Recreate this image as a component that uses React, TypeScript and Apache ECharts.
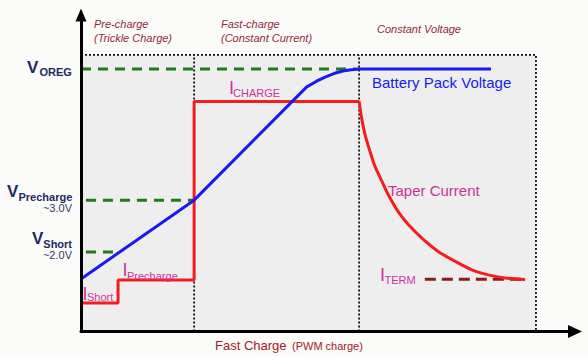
import React, { useEffect, useRef } from "react";
import * as echarts from "echarts";

// Phase boundaries (x, time units) and box top (y units)
const phaseBounds = [22.9, 56.3, 92.1];
const boxTop = 87.4;

// Voltage thresholds
const vOreg = 82.9;
const vPrecharge = 41.5;
const vShort = 25.1;

// Battery pack voltage curve [x, y]
const batteryX = [0, 22.9, 45.7, 47.6, 49.4, 51.2, 53.0, 54.7, 56.3, 83.0];
const batteryY = [16.6, 41.5, 77.3, 79.0, 80.4, 81.5, 82.3, 82.7, 82.9, 82.9];

// Charge current (step part)
const currentX = [0, 7.5, 7.5, 22.9, 22.9, 56.3];
const currentY = [9.0, 9.0, 16.3, 16.3, 72.7, 72.7];

// Taper current (constant-voltage phase)
const taperX = [56.3, 56.8, 57.5, 58.5, 59.5, 60.9, 62.2, 64.2, 66.3, 69.0, 72.3, 75.7, 79.1, 82.4, 85.8, 89.9];
const taperY = [72.7, 67.5, 62.2, 56.9, 52.2, 47.5, 43.2, 37.9, 33.7, 29.5, 25.3, 22.2, 19.5, 17.9, 16.9, 16.4];

// Termination current level
const iTerm = 16.5;
const iTermRange = [69.6, 89.5];

const zip = (xs: number[], ys: number[]) => xs.map((x, i) => [x, ys[i]]);

const FONT = '"Liberation Sans", Arial, sans-serif';
const NAVY = "#1f2a5c";
const MAGENTA = "#cc3399";
const DARKRED = "#8f2a3a";
const GREEN = "#1e7a1e";

export default function App() {
  const ref = useRef<HTMLDivElement>(null);
  useEffect(() => {
    if (!ref.current) return;
    const chart = echarts.init(ref.current, null, { renderer: "svg" });
    const dotted = { color: "#111", width: 1.8, type: [2, 2] as any };
    const dashedGreen = { color: GREEN, width: 3, type: [10, 7] as any };
    const lineBase = { type: "line", symbol: "none", silent: true, animation: false };
    const t = (text: string, x: number, y: number, font: string, fill: string, align = "left") => ({
      type: "text",
      x,
      y,
      z: 100,
      silent: true,
      style: { text, font, fill, align, verticalAlign: "middle" },
    });
    chart.setOption({
      animation: false,
      backgroundColor: "#fbfbfa",
      grid: { left: 81, right: 13, top: 15, bottom: 25.5 },
      xAxis: {
        type: "value",
        min: 0,
        max: 100,
        splitLine: { show: false },
        axisTick: { show: false },
        axisLabel: { show: false },
        axisLine: { show: true, onZero: false, symbol: ["none", "triangle"], symbolSize: [13, 14], lineStyle: { color: "#000", width: 3 } },
        z: 10,
      },
      yAxis: {
        type: "value",
        min: 0,
        max: 100,
        splitLine: { show: false },
        axisTick: { show: false },
        axisLabel: { show: false },
        axisLine: { show: true, onZero: false, symbol: ["none", "triangle"], symbolSize: [11, 13], lineStyle: { color: "#000", width: 3 } },
        z: 10,
      },
      series: [
        {
          ...lineBase,
          name: "box",
          data: [[0, boxTop], [phaseBounds[2], boxTop], [phaseBounds[2], 0]],
          lineStyle: dotted,
          markArea: {
            silent: true,
            itemStyle: { color: "#eeeeee" },
            data: [[{ coord: [0, 0] }, { coord: [phaseBounds[2], boxTop] }]],
          },
        },
        { ...lineBase, data: [[phaseBounds[0], 0], [phaseBounds[0], boxTop]], lineStyle: dotted },
        { ...lineBase, data: [[phaseBounds[1], 0], [phaseBounds[1], boxTop]], lineStyle: dotted },
        { ...lineBase, data: [[0, vOreg], [phaseBounds[1], vOreg]], lineStyle: dashedGreen },
        { ...lineBase, data: [[1, vPrecharge], [phaseBounds[0], vPrecharge]], lineStyle: dashedGreen },
        { ...lineBase, data: [[1, vShort], [7.5, vShort]], lineStyle: dashedGreen },
        { ...lineBase, data: [[iTermRange[0], iTerm], [iTermRange[1], iTerm]], lineStyle: { color: "#8b1a1a", width: 3, type: [11, 6] } },
        { ...lineBase, data: zip(currentX, currentY), lineStyle: { color: "#f41c1c", width: 3 } },
        { ...lineBase, data: zip(taperX, taperY), smooth: 0.3, lineStyle: { color: "#f41c1c", width: 3 } },
        { ...lineBase, data: zip(batteryX, batteryY), lineStyle: { color: "#1a1aee", width: 3, join: "round" } },
      ],
      graphic: [
        t("Pre-charge", 94, 24, `italic 11px ${FONT}`, DARKRED),
        t("(Trickle Charge)", 94, 38, `italic 11px ${FONT}`, DARKRED),
        t("Fast-charge", 221, 24, `italic 11px ${FONT}`, DARKRED),
        t("(Constant Current)", 221, 38, `italic 11px ${FONT}`, DARKRED),
        t("Constant Voltage", 377, 29, `italic 11px ${FONT}`, DARKRED),
        t("V", 27, 67, `bold 17px ${FONT}`, NAVY),
        t("OREG", 39.5, 72, `bold 11px ${FONT}`, NAVY),
        t("V", 7, 191, `bold 17px ${FONT}`, NAVY),
        t("Precharge", 18.5, 197, `bold 11px ${FONT}`, NAVY),
        t("~3.0V", 72, 208, `11px ${FONT}`, "#2e3b5e", "right"),
        t("V", 32, 238, `bold 17px ${FONT}`, NAVY),
        t("Short", 43.3, 244, `bold 11px ${FONT}`, NAVY),
        t("~2.0V", 72, 255, `11px ${FONT}`, "#2e3b5e", "right"),
        t("Battery Pack Voltage", 372, 82, `15px ${FONT}`, "#1a1aee"),
        t("I", 229, 88, `18px ${FONT}`, MAGENTA),
        t("CHARGE", 233, 93, `11px ${FONT}`, MAGENTA),
        t("Taper Current", 388, 190, `15px ${FONT}`, MAGENTA),
        t("I", 380, 275, `18px ${FONT}`, MAGENTA),
        t("TERM", 384.5, 280, `11px ${FONT}`, MAGENTA),
        t("I", 122.5, 270, `18px ${FONT}`, MAGENTA),
        t("Precharge", 127, 276, `11px ${FONT}`, MAGENTA),
        t("I", 82.5, 294, `18px ${FONT}`, MAGENTA),
        t("Short", 87, 297, `11px ${FONT}`, MAGENTA),
        t("Fast Charge", 215, 345, `13px ${FONT}`, "#a0202a"),
        t("(PWM charge)", 292, 346, `11px ${FONT}`, "#a0202a"),
      ],
    });
    return () => chart.dispose();
  }, []);
  return <div ref={ref} style={{ position: "absolute", left: 0, top: 0, width: 588, height: 357 }} />;
}
